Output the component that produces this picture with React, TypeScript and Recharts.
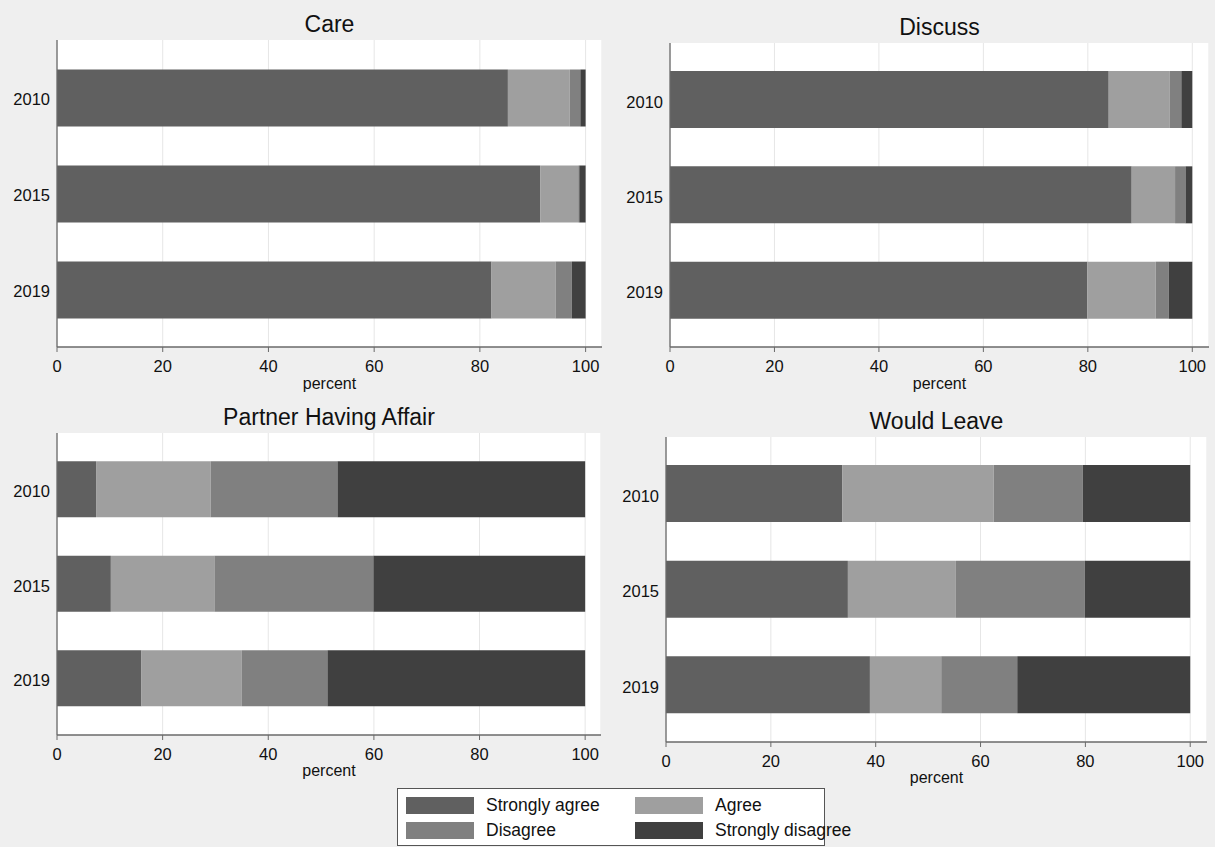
import React from 'react';
import { BarChart, Bar, XAxis, YAxis, CartesianGrid, Label } from 'recharts';

const years = ['2010', '2015', '2019'];
const xTicks = [0, 20, 40, 60, 80, 100];
const legendLabels = ['Strongly agree', 'Agree', 'Disagree', 'Strongly disagree'];

// Care
const careStronglyAgree = [85.3, 91.4, 82.2];
const careAgree = [11.7, 7.2, 12.1];
const careDisagree = [2.0, 0.2, 3.1];
const careStronglyDisagree = [1.0, 1.2, 2.6];

// Discuss
const discussStronglyAgree = [84.0, 88.4, 79.9];
const discussAgree = [11.7, 8.3, 13.1];
const discussDisagree = [2.2, 2.0, 2.5];
const discussStronglyDisagree = [2.1, 1.3, 4.5];

// Partner Having Affair
const affairStronglyAgree = [7.4, 10.2, 16.0];
const affairAgree = [21.7, 19.6, 19.0];
const affairDisagree = [24.0, 30.1, 16.2];
const affairStronglyDisagree = [46.9, 40.1, 48.8];

// Would Leave
const leaveStronglyAgree = [33.6, 34.7, 38.9];
const leaveAgree = [28.9, 20.6, 13.6];
const leaveDisagree = [17.0, 24.6, 14.5];
const leaveStronglyDisagree = [20.5, 20.1, 33.0];

const COLORS = ['#606060', '#9f9f9f', '#808080', '#404040'];
const FONT = 'Liberation Sans, Arial, Helvetica, sans-serif';
const BG = '#efefef';
const AXIS = '#6a6a6a';
const KEYS = ['sa', 'a', 'd', 'sd'];

function build(sa: number[], a: number[], d: number[], sd: number[]) {
  return years.map((y, i) => ({ year: y, sa: sa[i], a: a[i], d: d[i], sd: sd[i] }));
}

type PanelProps = {
  title: string;
  data: any[];
  plotLeft: number;
  plotTop: number;
  plotRight: number;
  plotBottom: number;
  titleY: number;
  pad: number;
  xMax: number;
  percentOffset: number;
  barSize: number;
};

const Y_W = 57;
const X_H = 53;

function Panel(p: PanelProps) {
  const plotW = p.plotRight - p.plotLeft;
  const plotH = p.plotBottom - p.plotTop;
  const chartLeft = p.plotLeft - Y_W;
  return (
    <>
      <div
        style={{
          position: 'absolute',
          left: p.plotLeft,
          top: p.titleY - 13,
          width: plotW,
          height: 26,
          lineHeight: '26px',
          textAlign: 'center',
          fontFamily: FONT,
          fontSize: 23,
          color: '#111',
        }}
      >
        {p.title}
      </div>
      <div style={{ position: 'absolute', left: chartLeft, top: p.plotTop }}>
        <BarChart
          width={Y_W + plotW}
          height={plotH + X_H}
          data={p.data}
          layout="vertical"
          margin={{ top: 0, right: 0, bottom: 0, left: 0 }}
          barSize={p.barSize}
        >
          <CartesianGrid horizontal={false} vertical={true} stroke="#e6e6e6" fill="#ffffff" />
          <XAxis
            type="number"
            domain={[0, p.xMax]}
            ticks={xTicks}
            allowDataOverflow
            height={X_H}
            tickSize={5}
            tickMargin={8}
            axisLine={{ stroke: AXIS, strokeWidth: 1.3 }}
            tickLine={{ stroke: AXIS }}
            tick={{ fill: '#111', fontSize: 16.5, fontFamily: FONT }}
          >
            <Label
              value="percent"
              position="insideBottom"
              offset={p.percentOffset}
              style={{ fill: '#111', fontSize: 16, fontFamily: FONT }}
            />
          </XAxis>
          <YAxis
            type="category"
            dataKey="year"
            width={Y_W}
            tickSize={0}
            tickMargin={7}
            tickLine={false}
            padding={{ top: p.pad, bottom: p.pad }}
            axisLine={{ stroke: AXIS, strokeWidth: 1.3 }}
            tick={{ fill: '#111', fontSize: 16.5, fontFamily: FONT, dy: 2 }}
          />
          {KEYS.map((k, i) => (
            <Bar key={k} dataKey={k} stackId="s" fill={COLORS[i]} isAnimationActive={false} />
          ))}
        </BarChart>
      </div>
    </>
  );
}

function Legend() {
  const items = [
    { label: legendLabels[0], color: COLORS[0], x: 406, y: 797 },
    { label: legendLabels[1], color: COLORS[1], x: 635, y: 797 },
    { label: legendLabels[2], color: COLORS[2], x: 406, y: 822 },
    { label: legendLabels[3], color: COLORS[3], x: 635, y: 822 },
  ];
  return (
    <>
      <div
        style={{
          position: 'absolute',
          left: 397,
          top: 788,
          width: 428,
          height: 58,
          background: '#fff',
          border: '1px solid #555',
          boxSizing: 'border-box',
        }}
      />
      {items.map((it) => (
        <React.Fragment key={it.label}>
          <div
            style={{
              position: 'absolute',
              left: it.x,
              top: it.y,
              width: 68,
              height: 17,
              background: it.color,
            }}
          />
          <div
            style={{
              position: 'absolute',
              left: it.x + 80,
              top: it.y - 2,
              height: 21,
              lineHeight: '21px',
              fontFamily: FONT,
              fontSize: 17.5,
              color: '#111',
              whiteSpace: 'nowrap',
            }}
          >
            {it.label}
          </div>
        </React.Fragment>
      ))}
    </>
  );
}

export default function App() {
  return (
    <div
      style={{
        position: 'absolute',
        left: 0,
        top: 0,
        width: 1215,
        height: 847,
        background: BG,
        overflow: 'hidden',
      }}
    >
      <Panel
        title="Care"
        data={build(careStronglyAgree, careAgree, careDisagree, careStronglyDisagree)}
        plotLeft={57}
        plotTop={40}
        plotRight={602}
        plotBottom={347}
        titleY={24}
        pad={9.5}
        xMax={103.1}
        percentOffset={11}
        barSize={57}
      />
      <Panel
        title="Discuss"
        data={build(discussStronglyAgree, discussAgree, discussDisagree, discussStronglyDisagree)}
        plotLeft={670}
        plotTop={43}
        plotRight={1209}
        plotBottom={347}
        titleY={27}
        pad={9}
        xMax={103.2}
        percentOffset={11}
        barSize={57}
      />
      <Panel
        title="Partner Having Affair"
        data={build(affairStronglyAgree, affairAgree, affairDisagree, affairStronglyDisagree)}
        plotLeft={57}
        plotTop={433}
        plotRight={601}
        plotBottom={735}
        titleY={417}
        pad={9.25}
        xMax={103}
        percentOffset={12}
        barSize={56}
      />
      <Panel
        title="Would Leave"
        data={build(leaveStronglyAgree, leaveAgree, leaveDisagree, leaveStronglyDisagree)}
        plotLeft={666}
        plotTop={437}
        plotRight={1207}
        plotBottom={742}
        titleY={421}
        pad={9}
        xMax={103.2}
        percentOffset={12}
        barSize={57}
      />
      <Legend />
    </div>
  );
}
